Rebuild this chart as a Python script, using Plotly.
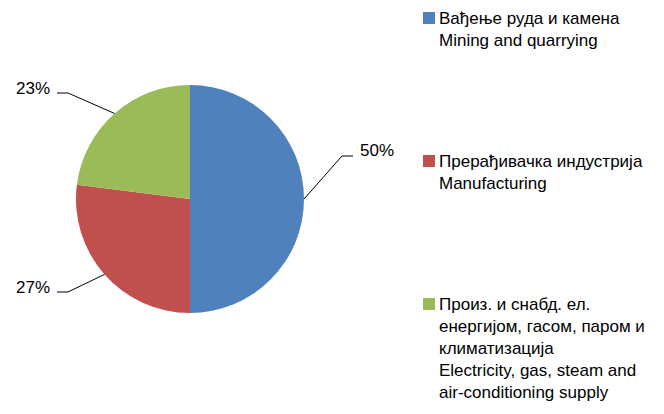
import math
import plotly.graph_objects as go

W, H = 664, 414

# ---- data ----
categories = [
    "Вађење руда и камена<br>Mining and quarrying",
    "Прерађивачка индустрија<br>Manufacturing",
    "Произ. и снабд. ел.<br>енергијом, гасом, паром и<br>климатизација<br>Electricity, gas, steam and<br>air-conditioning supply",
]
values = [50, 27, 23]
colors = ["#4F81BD", "#C0504D", "#9BBB59"]

# ---- layout parameters (pixels) ----
cx, cy, r = 190, 199, 114
FONT = "Liberation Sans, Arial, sans-serif"
FS = 17

def px(x):
    return x / W

def py(y):
    return 1 - y / H

fig = go.Figure()
fig.add_trace(go.Pie(
    values=values,
    labels=categories,
    sort=False,
    direction="clockwise",
    rotation=0,
    marker=dict(colors=colors, line=dict(width=0)),
    textinfo="none",
    hoverinfo="label+percent",
    showlegend=False,
    domain=dict(x=[px(cx - r), px(cx + r)], y=[py(cy + r), py(cy - r)]),
))

# label placement per slice: (elbow x, elbow y, end x, text x, text y, anchor)
label_pos = [
    (342, 156, 353, 358, 150, "left"),
    (68, 292, 57, 52, 287, "right"),
    (68, 93, 57, 52, 88, "right"),
]

total = sum(values)
shapes = []
annotations = []
cum = 0
for v, (ex, ey, hx, tx, ty, anc) in zip(values, label_pos):
    mid = (cum + v / 2) / total * 2 * math.pi
    cum += v
    sx = cx + r * math.sin(mid)
    sy = cy - r * math.cos(mid)
    shapes.append(dict(
        type="path", xref="paper", yref="paper",
        path=f"M {px(sx)} {py(sy)} L {px(ex)} {py(ey)} L {px(hx)} {py(ey)}",
        line=dict(color="#000000", width=1),
    ))
    annotations.append(dict(
        x=px(tx), y=py(ty), xref="paper", yref="paper",
        xanchor=anc, yanchor="middle", showarrow=False,
        text=f"{round(v / total * 100)}%",
        font=dict(family=FONT, size=FS, color="#000000"),
    ))

# legend (manual, evenly distributed like the original)
legend_tops = [12, 155, 298]
for cat, col, top in zip(categories, colors, legend_tops):
    shapes.append(dict(
        type="rect", xref="paper", yref="paper",
        x0=px(423), x1=px(435), y0=py(top + 12), y1=py(top),
        fillcolor=col, line=dict(width=0),
    ))
    annotations.append(dict(
        x=px(437), y=py(top - 5), xref="paper", yref="paper",
        xanchor="left", yanchor="top", align="left", showarrow=False,
        text=cat,
        font=dict(family=FONT, size=FS, color="#000000"),
    ))

fig.update_layout(
    width=W, height=H,
    margin=dict(l=0, r=0, t=0, b=0),
    paper_bgcolor="white",
    plot_bgcolor="white",
    shapes=shapes,
    annotations=annotations,
)

fig.write_html(
    "out.html",
    config={"displayModeBar": False},
    post_script="document.body.style.margin='0';document.body.style.overflow='hidden';",
)
